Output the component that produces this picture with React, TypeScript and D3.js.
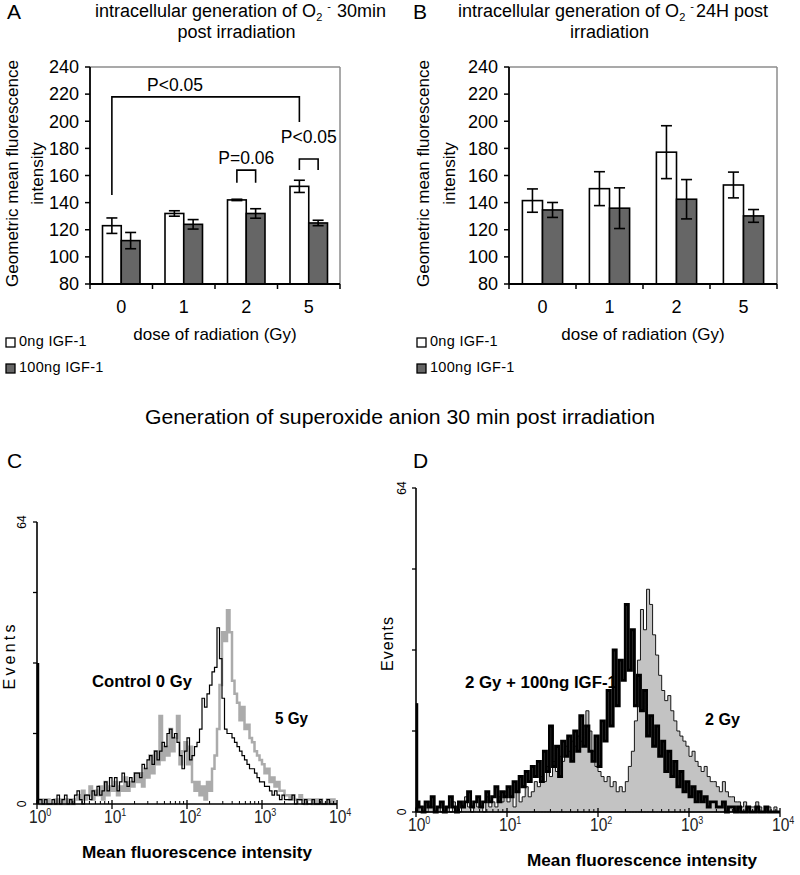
import React from 'react';
import * as d3 from 'd3';

const FONT = "'Liberation Sans', Arial, Helvetica, sans-serif";

// ---------- Bar charts (A, B) ----------
const doses = ['0', '1', '2', '5'];
const seriesKeys = ['ctrl', 'igf'];
const seriesLabels = ['0ng IGF-1', '100ng IGF-1'];
const seriesFills = ['#ffffff', '#666666'];
const yTicksBar = [80, 100, 120, 140, 160, 180, 200, 220, 240];

const a30Ctrl = [123, 132, 142, 152];
const a30CtrlErr = [5.7, 2, 0.5, 4.5];
const a30Igf = [112, 124, 132, 125];
const a30IgfErr = [6, 3.5, 3.5, 2];

const b24Ctrl = [141.5, 150.3, 177.2, 153];
const b24CtrlErr = [8.6, 12.5, 19.5, 9.5];
const b24Igf = [134.6, 135.9, 142.5, 130.2];
const b24IgfErr = [5.5, 15, 14.5, 4.7];

// significance brackets for panel A (values in y units)
const bracketsA = [
  { from: ['0', 'ctrl'], to: ['5', 'ctrl'], level: 218, leftEnd: 145.6, rightEnd: 199.5, label: 'P<0.05', labelAt: 1.36, labelLevel: 222.3 },
  { from: ['2', 'ctrl'], to: ['2', 'igf'], level: 164, leftEnd: 154.7, rightEnd: 154.7, label: 'P=0.06', labelAt: null, labelLevel: 168.5 },
  { from: ['5', 'ctrl'], to: ['5', 'igf'], level: 172.2, leftEnd: 164, rightEnd: 164, label: 'P<0.05', labelAt: null, labelLevel: 184 },
];

// ---------- Histograms (C, D) ----------
// 120 log bins spanning 10^0..10^4 (30 bins per decade), counts in events
const binsPerDecade = 30;
const eventTicks = [0, 16, 32, 48, 64];
const decades = [1, 10, 100, 1000, 10000];

const c0GyCounts = [
  1, 1, 0, 1, 0, 0, 1, 0, 2, 0,
  1, 2, 0, 1, 0, 2, 3, 1, 0, 2,
  2, 1, 3, 2, 4, 2, 3, 5, 3, 6,
  4, 6, 3, 5, 7, 5, 4, 6, 5, 7,
  7, 6, 9, 8, 10, 11, 9, 12, 10, 12,
  14, 13, 16, 17, 15, 16, 14, 11, 8, 12,
  15, 10, 11, 13, 14, 17, 24, 22, 25, 27,
  30, 31, 40, 33, 24, 17, 16, 16, 15, 14,
  13, 12, 11, 10, 9, 8, 8, 7, 6, 5,
  5, 4, 4, 3, 2, 3, 2, 1, 2, 1,
  1, 1, 2, 0, 1, 1, 0, 1, 0, 0,
  1, 0, 0, 1, 0, 0, 1, 0, 0, 0,
];
const c5GyCounts = [
  1, 0, 1, 0, 1, 0, 0, 1, 0, 1,
  0, 1, 0, 1, 0, 1, 2, 1, 3, 1,
  2, 4, 1, 3, 2, 4, 1, 5, 2, 4,
  3, 5, 2, 4, 3, 6, 3, 5, 4, 7,
  5, 7, 4, 8, 6, 11, 7, 12, 9, 20,
  10, 13, 11, 17, 12, 15, 20, 9, 12, 14,
  9, 13, 5, 3, 5, 2, 4, 1, 5, 3,
  8, 11, 17, 27, 39, 37, 44, 39, 28, 25,
  23, 19, 22, 17, 18, 15, 14, 12, 11, 10,
  9, 7, 8, 5, 6, 4, 5, 3, 3, 2,
  2, 1, 2, 1, 1, 2, 1, 0, 1, 1,
  0, 1, 0, 1, 0, 0, 1, 0, 1, 0,
];
const cFirstChannel = 32;

const d2GyIgfCounts = [
  2, 1, 0, 2, 1, 3, 0, 1, 2, 0,
  1, 3, 1, 0, 2, 1, 2, 4, 1, 2,
  3, 1, 2, 4, 2, 3, 5, 2, 4, 3,
  5, 3, 6, 4, 7, 5, 8, 6, 9, 7,
  10, 6, 12, 8, 17, 9, 13, 7, 14, 11,
  15, 10, 16, 12, 19, 13, 17, 12, 10, 15,
  9, 18, 14, 24, 17, 32, 21, 30, 26, 41,
  28, 36, 21, 27, 20, 24, 15, 19, 13, 17,
  11, 14, 8, 12, 7, 10, 5, 8, 4, 6,
  3, 5, 2, 4, 2, 3, 1, 2, 2, 1,
  1, 2, 0, 1, 1, 0, 1, 0, 0, 1,
  0, 0, 1, 0, 0, 1, 0, 0, 0, 0,
];
const d2GyCounts = [
  1, 0, 1, 0, 2, 1, 0, 1, 0, 1,
  1, 0, 2, 1, 0, 1, 3, 1, 0, 2,
  1, 2, 0, 3, 1, 2, 1, 3, 2, 4,
  2, 3, 1, 4, 2, 3, 5, 3, 4, 6,
  5, 7, 6, 9, 7, 10, 8, 11, 10, 13,
  12, 14, 13, 15, 14, 17, 20, 16, 12, 9,
  8, 7, 6, 7, 5, 6, 4, 5, 4, 6,
  9, 12, 18, 30, 40, 36, 44, 41, 35, 31,
  27, 24, 22, 23, 20, 18, 16, 15, 14, 13,
  11, 12, 10, 9, 8, 9, 7, 6, 6, 5,
  4, 6, 4, 3, 3, 2, 2, 1, 2, 1,
  1, 1, 2, 1, 0, 1, 1, 0, 1, 0,
];
const dFirstChannel = 21.5;

// annotation labels (x in fluorescence units, y in events)
const cNotes = [
  { text: 'Control 0 Gy', x: 5.4, y: 26.6, w: 100 },
  { text: '5 Gy', x: 1490, y: 18.2, w: 33 },
];
const dNotes = [
  { text: '2 Gy + 100ng IGF-1', x: 3.45, y: 24.5, w: 152 },
  { text: '2 Gy', x: 1500, y: 17.2, w: 35 },
];

function BarPanel(props: any) {
  const { left, right, top, bottom, ctrl, ctrlErr, igf, igfErr, brackets, legendX, ylabX1, ylabX2 } = props;
  const y = d3.scaleLinear().domain([80, 240]).range([bottom, top]);
  const x0 = d3.scaleBand<string>().domain(doses).range([left, right]).padding(0);
  const bw = x0.bandwidth();
  const x1 = d3.scaleBand<string>().domain(seriesKeys).range([bw * 0.2, bw * 0.8]).padding(0);
  const vals = [ctrl, igf];
  const errs = [ctrlErr, igfErr];
  const barCenter = (d: string, s: string) => (x0(d) as number) + (x1(s) as number) + x1.bandwidth() / 2;
  const capW = 11;
  const yMid = (top + bottom) / 2 - 2;
  return (
    <g fontFamily={FONT}>
      {/* frame */}
      <line x1={left} x2={right} y1={top} y2={top} stroke="#8c8c8c" strokeWidth={1.5} />
      <line x1={right} x2={right} y1={top} y2={bottom} stroke="#8c8c8c" strokeWidth={1.5} />
      {/* bars */}
      {seriesKeys.map((s, si) =>
        doses.map((d, di) => (
          <rect key={s + d} x={(x0(d) as number) + (x1(s) as number)} y={y(vals[si][di])}
            width={x1.bandwidth()} height={bottom - y(vals[si][di])}
            fill={seriesFills[si]} stroke="#000" strokeWidth={1.6} />
        ))
      )}
      {/* error bars */}
      {seriesKeys.map((s, si) =>
        doses.map((d, di) => {
          const cx = barCenter(d, s);
          const hi = y(vals[si][di] + errs[si][di]);
          const lo = y(vals[si][di] - errs[si][di]);
          return (
            <g key={'e' + s + d} stroke="#000" strokeWidth={1.6}>
              <line x1={cx} x2={cx} y1={hi} y2={lo} />
              <line x1={cx - capW / 2} x2={cx + capW / 2} y1={hi} y2={hi} />
              <line x1={cx - capW / 2} x2={cx + capW / 2} y1={lo} y2={lo} />
            </g>
          );
        })
      )}
      {/* axes */}
      <line x1={left} x2={left} y1={top} y2={bottom} stroke="#000" strokeWidth={1.8} />
      <line x1={left} x2={right} y1={bottom} y2={bottom} stroke="#000" strokeWidth={1.8} />
      {yTicksBar.map((t) => (
        <g key={'yt' + t}>
          <line x1={left - 5} x2={left} y1={y(t)} y2={y(t)} stroke="#000" strokeWidth={1.5} />
          <text x={left - 11} y={y(t)} dy="0.35em" textAnchor="end" fontSize={18}>{t}</text>
        </g>
      ))}
      {[...doses.map((d) => x0(d) as number), right].map((xv, i) => (
        <line key={'xt' + i} x1={xv} x2={xv} y1={bottom} y2={bottom + 5} stroke="#000" strokeWidth={1.5} />
      ))}
      {doses.map((d) => (
        <text key={'xl' + d} x={(x0(d) as number) + bw / 2} y={bottom + 29} textAnchor="middle" fontSize={18}>{d}</text>
      ))}
      <text x={(left + right) / 2} y={bottom + 56} textAnchor="middle" fontSize={17}>dose of radiation (Gy)</text>
      {/* y label */}
      <text transform={`translate(${ylabX1},${yMid}) rotate(-90)`} textAnchor="middle" dy="0.35em" fontSize={17}>Geometric mean fluorescence</text>
      <text transform={`translate(${ylabX2},${yMid}) rotate(-90)`} textAnchor="middle" dy="0.35em" fontSize={17}>intensity</text>
      {/* legend */}
      {seriesLabels.map((lab, i) => (
        <g key={'lg' + i}>
          <rect x={legendX} y={bottom + 54 + i * 26} width={9} height={9} fill={seriesFills[i]} stroke="#000" strokeWidth={1.3} />
          <text x={legendX + 13} y={bottom + 62 + i * 26} fontSize={14.5} letterSpacing={0.3}>{lab}</text>
        </g>
      ))}
      {/* brackets */}
      {brackets && brackets.map((b: any, i: number) => {
        const xl = barCenter(b.from[0], b.from[1]);
        const xr = barCenter(b.to[0], b.to[1]);
        const lx = b.labelAt == null ? (xl + xr) / 2 : left + b.labelAt * bw;
        return (
          <g key={'br' + i}>
            <path d={`M${xl},${y(b.leftEnd)}V${y(b.level)}H${xr}V${y(b.rightEnd)}`} fill="none" stroke="#000" strokeWidth={1.6} />
            <text x={lx} y={y(b.labelLevel)} textAnchor="middle" fontSize={17.5}>{b.label}</text>
          </g>
        );
      })}
    </g>
  );
}

function Hist(props: any) {
  const { left, right, top, bottom, lineCounts, otherCounts, filled, firstChannel, notes, labX, eventsX, eventsLen, titleX } = props;
  const x = d3.scaleLog().domain([1, 10000]).range([left, right]);
  const y = d3.scaleLinear().domain([0, 64]).range([bottom, top]);
  const pts = (c: number[]) => {
    const p: [number, number][] = c.map((v, i) => [x(Math.pow(10, i / binsPerDecade)), v]);
    p.push([x(10000), c[c.length - 1]]);
    return p;
  };
  const line = d3.line<[number, number]>().x((d) => d[0]).y((d) => y(d[1])).curve(d3.curveStepAfter);
  const area = d3.area<[number, number]>().x((d) => d[0]).y0(y(0)).y1((d) => y(d[1])).curve(d3.curveStepAfter);
  const minor: number[] = [];
  for (let e = 0; e < 4; e++) for (let k = 2; k <= 9; k++) minor.push(k * Math.pow(10, e));
  return (
    <g fontFamily={FONT}>
      {filled ? (
        <>
          <path d={area(pts(otherCounts)) as string} fill="#c3c3c3" stroke="#000" strokeWidth={0.9} />
          <path d={line(pts(lineCounts)) as string} fill="none" stroke="#000" strokeWidth={2.9} strokeLinejoin="miter" />
        </>
      ) : (
        <>
          <path d={line(pts(otherCounts)) as string} fill="none" stroke="#ababab" strokeWidth={2.5} />
          <path d={line(pts(lineCounts)) as string} fill="none" stroke="#000" strokeWidth={1.2} />
        </>
      )}
      <line x1={x(1) + 1} x2={x(1) + 1} y1={y(0)} y2={y(firstChannel)} stroke="#000" strokeWidth={2.5} />
      {/* axes */}
      <line x1={left} x2={left} y1={top} y2={bottom} stroke="#000" strokeWidth={1.6} />
      <line x1={left} x2={right} y1={bottom} y2={bottom} stroke="#000" strokeWidth={1.6} />
      {eventTicks.map((t) => (
        <line key={'et' + t} x1={left - 4} x2={left} y1={y(t)} y2={y(t)} stroke="#000" strokeWidth={1.3} />
      ))}
      <text transform={`translate(${labX},${y(64)}) rotate(-90)`} textAnchor="middle" dy="0.35em" fontSize={12}>64</text>
      <text transform={`translate(${labX},${y(0)}) rotate(-90)`} textAnchor="middle" dy="0.35em" fontSize={12}>0</text>
      {minor.map((m, i) => (
        <line key={'mn' + i} x1={x(m)} x2={x(m)} y1={bottom - 3} y2={bottom} stroke="#000" strokeWidth={1} />
      ))}
      {decades.map((d, i) => (
        <g key={'dc' + i}>
          <line x1={x(d)} x2={x(d)} y1={bottom - 4} y2={bottom + 5} stroke="#000" strokeWidth={1.3} />
          <text transform={`translate(${x(d) - 8},${bottom + 19}) scale(0.82,1)`} fontSize={19} fill="#222">
            10<tspan dy={-7} fontSize={11}>{i}</tspan>
          </text>
        </g>
      ))}
      <text transform={`translate(${eventsX},${(top + bottom) / 2 - 6}) rotate(-90)`} textAnchor="middle" dy="0.35em" fontSize={16}
        textLength={eventsLen} lengthAdjust="spacing">Events</text>
      <text x={titleX} y={bottom + 54} textAnchor="middle" fontSize={17} fontWeight="bold" textLength={230} lengthAdjust="spacingAndGlyphs">Mean fluorescence intensity</text>
      {notes.map((n: any, i: number) => (
        <text key={'nt' + i} x={x(n.x)} y={y(n.y)} fontSize={16} fontWeight="bold" textLength={n.w} lengthAdjust="spacingAndGlyphs">{n.text}</text>
      ))}
    </g>
  );
}

export default function App() {
  return (
    <svg width={800} height={875} style={{ position: 'absolute', left: 0, top: 0, background: '#fff' }}>
      <rect x={0} y={0} width={800} height={875} fill="#fff" />
      <g fontFamily={FONT} fill="#000">
        <text x={7} y={19} fontSize={21}>A</text>
        <text x={95} y={17} fontSize={18}>
          intracellular generation of O<tspan dy={4} fontSize={11}>2</tspan><tspan dx={5} dy={-11} fontSize={11}>-</tspan><tspan dx={6} dy={7}>30min</tspan>
        </text>
        <text x={236.5} y={38} fontSize={18} textAnchor="middle">post irradiation</text>
        <text x={413} y={19} fontSize={21}>B</text>
        <text x={458} y={17} fontSize={18}>
          intracellular generation of O<tspan dy={4} fontSize={11}>2</tspan><tspan dx={5} dy={-11} fontSize={11}>-</tspan><tspan dx={2} dy={7}>24H post</tspan>
        </text>
        <text x={609.5} y={38} fontSize={18} textAnchor="middle">irradiation</text>
        <text x={400} y={424} fontSize={20} textAnchor="middle" textLength={510} lengthAdjust="spacingAndGlyphs">Generation of superoxide anion 30 min post irradiation</text>
        <text x={7} y={468} fontSize={21}>C</text>
        <text x={413} y={468} fontSize={21}>D</text>
      </g>
      <BarPanel left={90} right={340} top={67} bottom={284} ctrl={a30Ctrl} ctrlErr={a30CtrlErr} igf={a30Igf} igfErr={a30IgfErr}
        brackets={bracketsA} legendX={6} ylabX1={12} ylabX2={37} />
      <BarPanel left={509} right={777} top={67} bottom={284} ctrl={b24Ctrl} ctrlErr={b24CtrlErr} igf={b24Igf} igfErr={b24IgfErr}
        brackets={null} legendX={417} ylabX1={423} ylabX2={449} />
      <Hist left={37} right={337} top={522} bottom={804} lineCounts={c0GyCounts} otherCounts={c5GyCounts} filled={false}
        firstChannel={cFirstChannel} notes={cNotes} labX={22} eventsX={9} eventsLen={65} titleX={197} />
      <Hist left={416} right={780} top={488} bottom={812} lineCounts={d2GyIgfCounts} otherCounts={d2GyCounts} filled={true}
        firstChannel={dFirstChannel} notes={dNotes} labX={402} eventsX={387} eventsLen={54} titleX={642} />
    </svg>
  );
}
